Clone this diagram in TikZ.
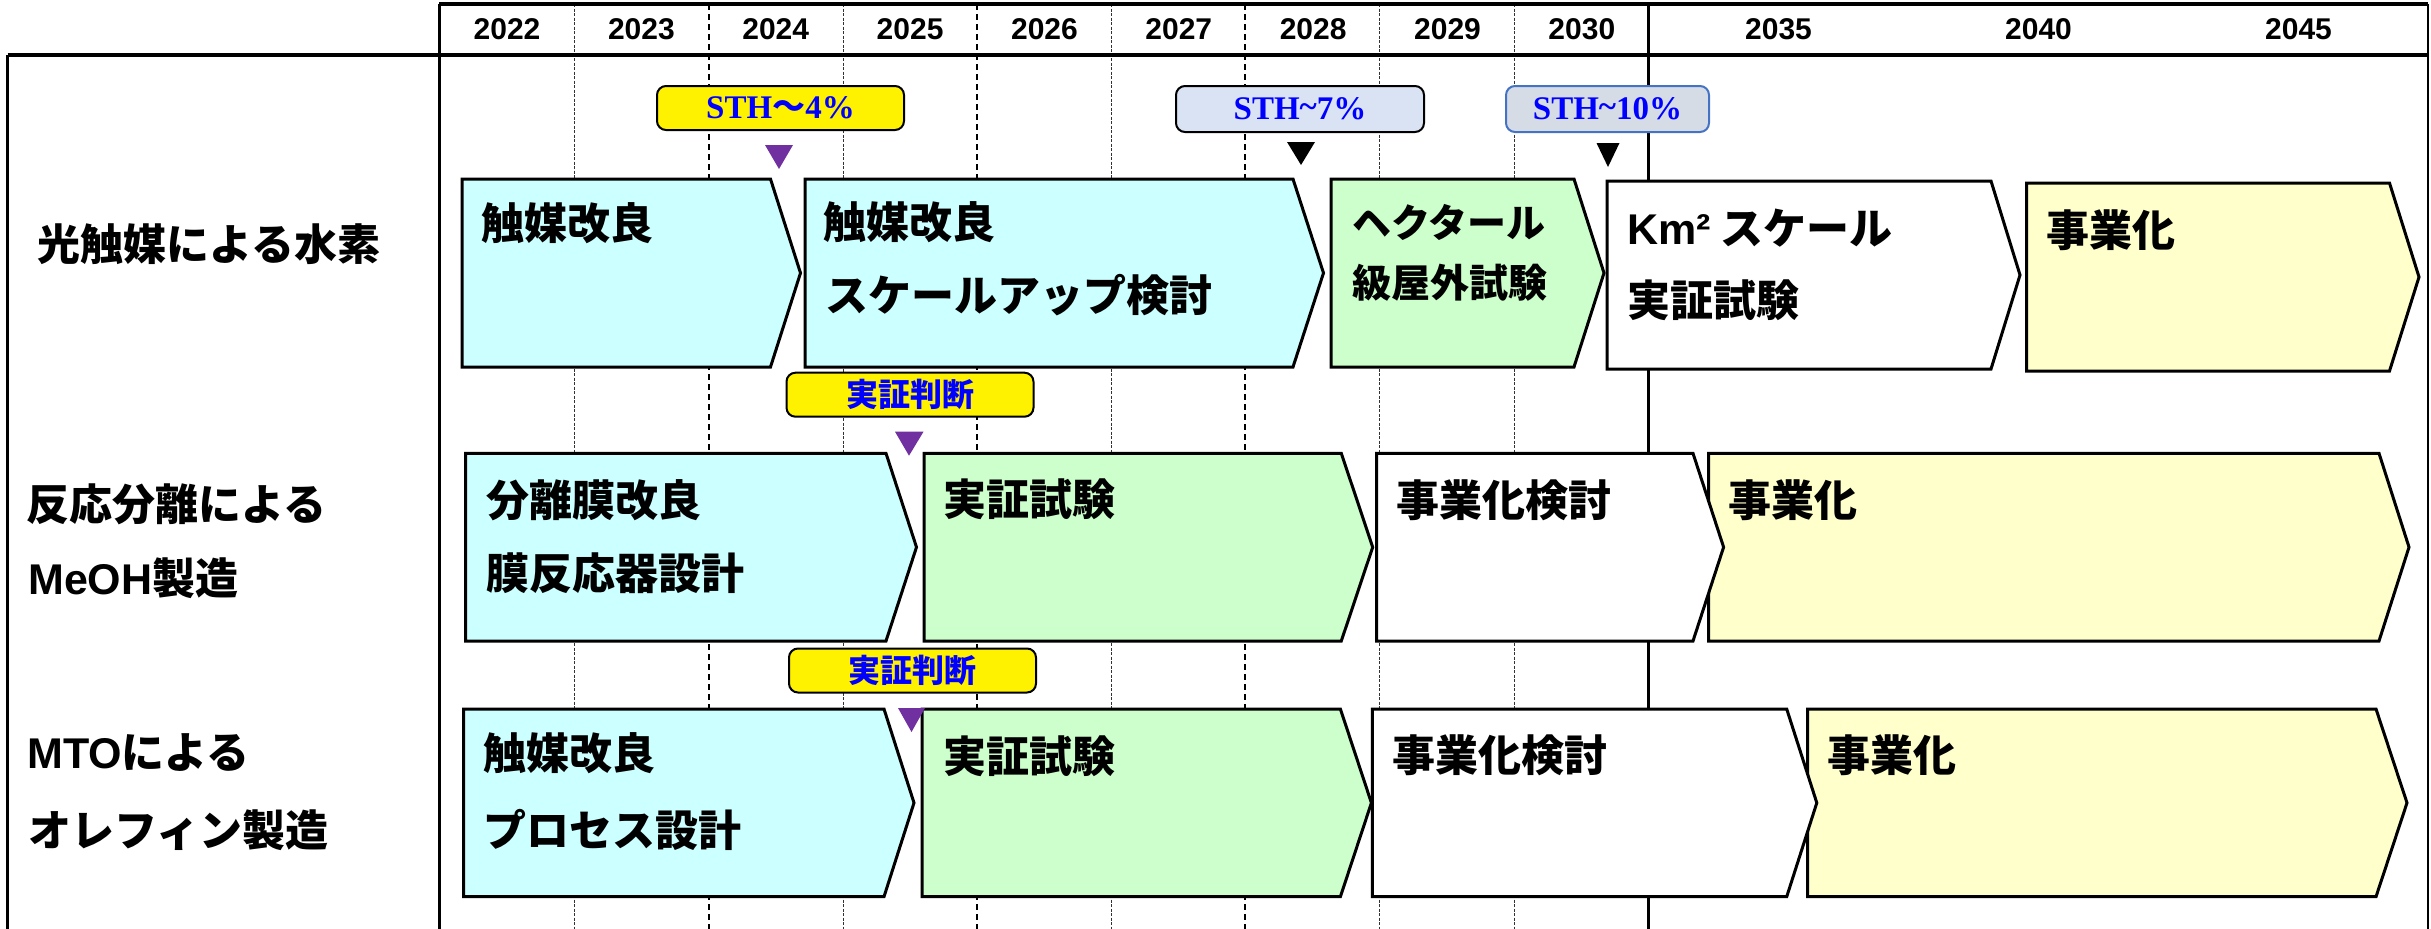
\documentclass[tikz,border=0pt]{standalone}
\usepackage{fontspec}
\newfontfamily\jp{Noto Sans CJK JP}
\newfontfamily\lat{Liberation Sans}
\newfontfamily\ser{Liberation Serif}
\definecolor{bcyan}{HTML}{CCFFFF}
\definecolor{bgreen}{HTML}{CCFFCC}
\definecolor{byellow}{HTML}{FFFFCC}
\definecolor{purp}{HTML}{7030A0}
\definecolor{lblue}{HTML}{DAE3F3}
\definecolor{lgray}{HTML}{D6DCE5}
\definecolor{eblue}{HTML}{4472C4}
\definecolor{tblue}{HTML}{0000FF}
\newcommand\chevron[6]{% style, left, top, bottom, right, tip
  \draw[#1] (#2,#3) -- (#5,#3) -- (#6,{(#3+#4)/2}) -- (#5,#4) -- (#2,#4) -- cycle;}
\tikzset{
  hline/.style={line width=3.5pt},
  vline/.style={line width=2.5pt},
  thinsep/.style={line width=1.3pt, dash pattern=on 3pt off 1.5pt, black!80},
  boldsep/.style={line width=2pt, dash pattern=on 6pt off 4pt},
  chev/.style={draw=black, line width=3pt, line join=miter},
  cyanbox/.style={chev, fill=bcyan},
  greenbox/.style={chev, fill=bgreen},
  whitebox/.style={chev, fill=white},
  yellowbox/.style={chev, fill=byellow},
  jt/.style={anchor=west, inner sep=0pt, font=\jp\bfseries\fontsize{43pt}{43pt}\selectfont},
  jts/.style={anchor=west, inner sep=0pt, font=\jp\bfseries\fontsize{39pt}{39pt}\selectfont},
  yr/.style={inner sep=0pt, font=\lat\bfseries\fontsize{30pt}{30pt}\selectfont},
  msbox/.style={draw=black, line width=2pt, rounded corners=9pt, inner sep=0pt, text=tblue},
  sthtext/.style={msbox, font=\ser\bfseries\fontsize{33pt}{33pt}\selectfont},
  judge/.style={msbox, fill=yellow, minimum width=247pt, minimum height=44pt,
    font=\jp\bfseries\fontsize{32pt}{32pt}\selectfont},
  purptri/.style={fill=purp},
  blacktri/.style={fill=black}
}
\begin{document}
\begin{tikzpicture}[x=1pt,y=-1pt]
\useasboundingbox (0,0) rectangle (2431,929);
% year separators
\foreach \x in {574.7,843.2,1111.7,1379.6,1514.8} \draw[thinsep] (\x,4) -- (\x,929);
\foreach \x in {708.6,977.4,1245.4} \draw[boldsep] (\x,4) -- (\x,929);
\draw[vline] (1648.5,4) -- (1648.5,929);
% frame
\draw[hline] (439.4,4) -- (2428,4);
\draw[hline] (7.7,55) -- (2428,55);
\draw[vline] (7.7,55) -- (7.7,929);
\draw[vline] (439.4,4) -- (439.4,929);
\draw[vline] (2428,4) -- (2428,929);
% years
\foreach \yy [count=\i from 0] in {2022,2023,2024,2025,2026,2027,2028,2029,2030}
  \node[yr] (y\yy) at ({507.05+134.35*\i},29) {\yy};
\node[yr] (y2035) at (1778.5,29) {2035};
\node[yr] (y2040) at (2038.5,29) {2040};
\node[yr] (y2045) at (2298.5,29) {2045};
% row labels
\node[jt] (r1) at (37.5,244) {光触媒による水素};
\node[jt] (r2a) at (26.5,504) {反応分離による};
\node[jt] (r2b) at (28,578) {{\lat MeOH}製造};
\node[jt] (r3a) at (27,753) {{\lat MTO}による};
\node[jt] (r3b) at (28.5,830) {オレフィン製造};
% milestones row 1
\node[sthtext, fill=yellow, minimum width=247pt, minimum height=44pt] (m1) at (780.5,108) {STH{\jp ～}4\%};
\node[sthtext, fill=lblue, minimum width=248pt, minimum height=46pt] (m2) at (1300,109) {STH\raisebox{2pt}{\textasciitilde}7\%};
\node[sthtext, draw=eblue, fill=lgray, minimum width=203pt, minimum height=46pt] (m3) at (1607.5,109) {STH\raisebox{2pt}{\textasciitilde}10\%};
\fill[purptri] (765,145) -- (793,145) -- (779,169) -- cycle;
\fill[blacktri] (1287,142) -- (1315,142) -- (1301,165) -- cycle;
\fill[blacktri] (1596.5,143) -- (1619.5,143) -- (1608,167) -- cycle;
% row 1 boxes
\chevron{cyanbox}{462}{179}{367}{770.5}{800.5}
\chevron{cyanbox}{805}{179}{367}{1293}{1323.5}
\chevron{greenbox}{1331}{179}{367}{1574}{1604}
\chevron{whitebox}{1607}{181}{369}{1991}{2020}
\chevron{yellowbox}{2026.6}{183}{371}{2389.5}{2419}
\node[jt] (t11) at (481,223) {触媒改良};
\node[jt] (t12a) at (823,222) {触媒改良};
\node[jt] (t12b) at (825,295) {スケールアップ検討};
\node[jts] (t13a) at (1352,222) {ヘクタール};
\node[jts] (t13b) at (1352,283) {級屋外試験};
\node[jt] (t14a) at (1627,228) {{\lat Km²} スケール};
\node[jt] (t14b) at (1627,300) {実証試験};
\node[jt] (t15) at (2046,230) {事業化};
% row 2
\node[judge] (j2) at (910,394.7) {実証判断};
\fill[purptri] (895,431.7) -- (923.5,431.7) -- (909,455.7) -- cycle;
\chevron{cyanbox}{465.5}{453.3}{641}{886}{916.5}
\chevron{greenbox}{924}{453.3}{641}{1341.3}{1372.7}
\chevron{yellowbox}{1708.7}{453.3}{641}{2379}{2409}
\chevron{whitebox}{1376.6}{453.3}{641}{1693}{1723.6}
\node[jt] (t21a) at (486,500) {分離膜改良};
\node[jt] (t21b) at (486,573) {膜反応器設計};
\node[jt] (t22) at (943,499) {実証試験};
\node[jt] (t23) at (1396,500) {事業化検討};
\node[jt] (t24) at (1728,500) {事業化};
% row 3
\node[judge] (j3) at (912.5,670.5) {実証判断};
\chevron{cyanbox}{463.7}{709}{896.7}{884}{914}
\chevron{greenbox}{922}{709}{896.7}{1340.4}{1371.4}
\chevron{yellowbox}{1807.7}{709}{896.7}{2376}{2407}
\chevron{whitebox}{1372.3}{709}{896.7}{1786.7}{1816.8}
\fill[purptri] (898,708) -- (925,708) -- (911.5,732) -- cycle;
\node[jt] (t31a) at (483,753) {触媒改良};
\node[jt] (t31b) at (483,830) {プロセス設計};
\node[jt] (t32) at (943,756) {実証試験};
\node[jt] (t33) at (1392,755) {事業化検討};
\node[jt] (t34) at (1827,755) {事業化};
\end{tikzpicture}
\end{document}
